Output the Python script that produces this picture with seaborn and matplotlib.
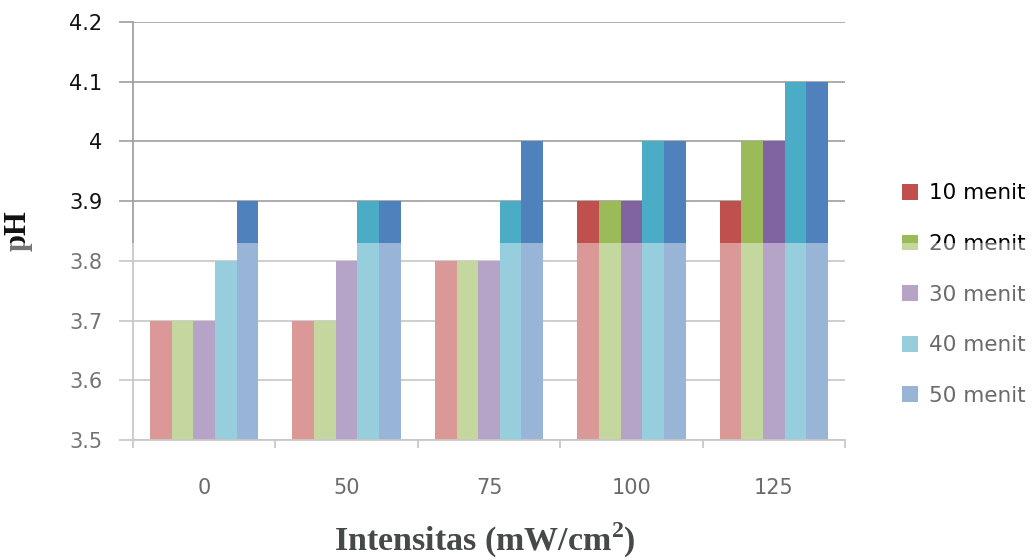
import numpy as np
import pandas as pd
import seaborn as sns
import matplotlib.pyplot as plt
from matplotlib.patches import Rectangle, Patch
from matplotlib.ticker import FixedLocator, FuncFormatter

# pH after irradiation, per light intensity and exposure time
intensitas = ["0", "50", "75", "100", "125"]
durasi = ["10 menit", "20 menit", "30 menit", "40 menit", "50 menit"]
ph_10 = [3.7, 3.7, 3.8, 3.9, 3.9]
ph_20 = [3.7, 3.7, 3.8, 3.9, 4.0]
ph_30 = [3.7, 3.8, 3.8, 3.9, 4.0]
ph_40 = [3.8, 3.9, 3.9, 4.0, 4.1]
ph_50 = [3.9, 3.9, 4.0, 4.0, 4.1]
warna = ["#C0504D", "#9BBB59", "#8064A2", "#4BACC6", "#4F81BD"]

series = [ph_10, ph_20, ph_30, ph_40, ph_50]
df = pd.DataFrame(
    [(x, d, v) for d, vals in zip(durasi, series) for x, v in zip(intensitas, vals)],
    columns=["Intensitas", "Durasi", "pH"],
)

sns.set_theme(style="white")
plt.rcParams["font.family"] = ["DejaVu Sans"]

fig = plt.figure(figsize=(10.35, 5.6), dpi=100)
ax = fig.add_axes([133 / 1035, 120 / 560, 712 / 1035, 418 / 560])

sns.barplot(data=df, x="Intensitas", y="pH", hue="Durasi", order=intensitas,
            hue_order=durasi, palette=warna, width=0.76, gap=0, saturation=1,
            linewidth=0, errorbar=None, legend=False, ax=ax)

ax.set_ylim(3.5, 4.2)
ax.set_xlim(-0.5, len(intensitas) - 0.5)
yt = np.round(np.arange(3.5, 4.21, 0.1), 1)
ax.set_yticks(yt)
ax.yaxis.set_major_formatter(FuncFormatter(lambda v, p: f"{v:g}"))
ax.grid(axis="y", color="#a6a6a6", linewidth=1.3, zorder=0)
ax.set_axisbelow(True)

for s in ["top", "right"]:
    ax.spines[s].set_visible(False)
for s in ["left", "bottom"]:
    ax.spines[s].set_color("#a0a0a0")
    ax.spines[s].set_linewidth(1.3)

ax.tick_params(axis="y", length=10, width=1.3, color="#a6a6a6", pad=12,
               labelsize=15, labelcolor="#111111", left=True)
ax.tick_params(axis="x", which="major", length=0, pad=27, labelsize=15,
               labelcolor="#000000")
ax.xaxis.set_minor_locator(FixedLocator(np.arange(-0.5, len(intensitas), 1.0)))
ax.tick_params(axis="x", which="minor", length=6, width=1.3, color="#a0a0a0",
               bottom=True)

ax.set_xlabel("")
ax.set_ylabel("pH", fontsize=22, fontweight="bold", family="Liberation Serif",
              color="#111111", labelpad=26)

handles = [Patch(facecolor=c, edgecolor="none") for c in warna]
fig.legend(handles, durasi, loc="center left", bbox_to_anchor=(0.853, 0.474),
           frameon=False, fontsize=15.5, handlelength=0.75, handleheight=0.75,
           handletextpad=0.5, labelspacing=1.42, labelcolor="#000000")

# pale wash over the lower part of the page
pos = ax.get_position()
y_cut = pos.y0 + (3.83 - 3.5) / (4.2 - 3.5) * pos.height
fig.add_artist(Rectangle((0, 0), 1, y_cut, transform=fig.transFigure,
                         facecolor="white", edgecolor="none", alpha=0.42,
                         zorder=100))

# axis title sits on top of the wash
fig.text(pos.x0 + pos.width / 2 - 4 / 1035, 1 - 540 / 560,
         "Intensitas (mW/cm$^\\mathregular{2}$)", ha="center", va="center",
         fontsize=24.5, fontweight="bold", family="Liberation Serif",
         color="#454a48", zorder=101)

fig.savefig("out.png", dpi=100)
